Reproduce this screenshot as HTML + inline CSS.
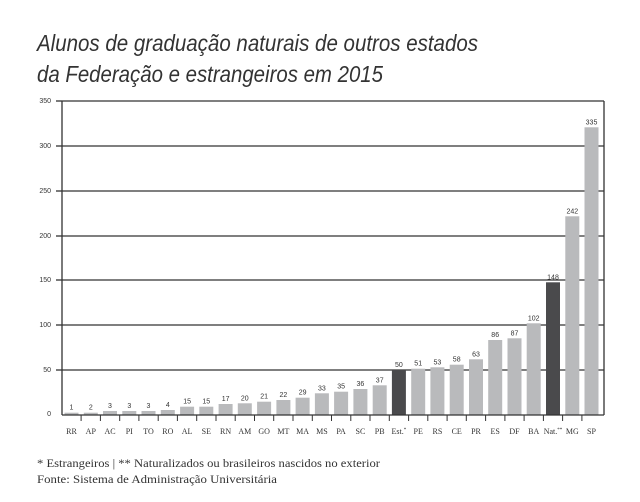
<!DOCTYPE html>
<html><head><meta charset="utf-8"><style>
html,body{margin:0;padding:0;background:#fff;}
svg{display:block}
</style></head><body>
<svg width="640" height="502" xmlns="http://www.w3.org/2000/svg">
<g font-family="Liberation Sans, sans-serif" font-style="italic" fill="#333" font-size="23">
<text x="37" y="51" textLength="441" lengthAdjust="spacingAndGlyphs">Alunos de graduação naturais de outros estados</text>
<text x="37" y="82" textLength="346" lengthAdjust="spacingAndGlyphs">da Federação e estrangeiros em 2015</text>
</g>
<g stroke="#333" stroke-width="1.3">
<line x1="62" y1="101" x2="604" y2="101"/>
<line x1="62" y1="146" x2="604" y2="146"/>
<line x1="62" y1="191" x2="604" y2="191"/>
<line x1="62" y1="236" x2="604" y2="236"/>
<line x1="62" y1="280" x2="604" y2="280"/>
<line x1="62" y1="325" x2="604" y2="325"/>
<line x1="62" y1="370" x2="604" y2="370"/>
<line x1="56" y1="101" x2="62" y2="101"/><line x1="56" y1="146" x2="62" y2="146"/><line x1="56" y1="191" x2="62" y2="191"/><line x1="56" y1="236" x2="62" y2="236"/><line x1="56" y1="280" x2="62" y2="280"/><line x1="56" y1="325" x2="62" y2="325"/><line x1="56" y1="370" x2="62" y2="370"/>
<line x1="62" y1="101" x2="62" y2="415"/>
<line x1="604" y1="101" x2="604" y2="415"/>
</g>
<g font-family="Liberation Sans, sans-serif" font-size="7" fill="#333" text-anchor="end">
<text x="51" y="103">350</text><text x="51" y="148">300</text><text x="51" y="193">250</text><text x="51" y="238">200</text><text x="51" y="282">150</text><text x="51" y="327">100</text><text x="51" y="372">50</text><text x="51" y="416">0</text>
</g>
<g fill="#b9babc">
<rect x="64.5" y="412.7" width="14" height="2.3"/>
<rect x="83.8" y="412.7" width="14" height="2.3"/>
<rect x="103" y="411" width="14" height="4"/>
<rect x="122.3" y="411" width="14" height="4"/>
<rect x="141.5" y="411" width="14" height="4"/>
<rect x="160.8" y="410" width="14" height="5"/>
<rect x="180.1" y="406.7" width="14" height="8.3"/>
<rect x="199.3" y="406.7" width="14" height="8.3"/>
<rect x="218.6" y="404" width="14" height="11"/>
<rect x="237.8" y="403.3" width="14" height="11.7"/>
<rect x="257.1" y="401.7" width="14" height="13.3"/>
<rect x="276.4" y="400" width="14" height="15"/>
<rect x="295.6" y="397.7" width="14" height="17.3"/>
<rect x="314.9" y="393.3" width="14" height="21.7"/>
<rect x="334.1" y="391.7" width="14" height="23.3"/>
<rect x="353.4" y="389" width="14" height="26"/>
<rect x="372.7" y="385.3" width="14" height="29.7"/>
<rect x="391.9" y="370" width="14" height="45" fill="#4a4a4c"/>
<rect x="411.2" y="368.7" width="14" height="46.3"/>
<rect x="430.4" y="367.3" width="14" height="47.7"/>
<rect x="449.7" y="364.7" width="14" height="50.3"/>
<rect x="469" y="359.3" width="14" height="55.7"/>
<rect x="488.2" y="340" width="14" height="75"/>
<rect x="507.5" y="338.3" width="14" height="76.7"/>
<rect x="526.7" y="323.3" width="14" height="91.7"/>
<rect x="546" y="282.3" width="14" height="132.7" fill="#4a4a4c"/>
<rect x="565.3" y="216.3" width="14" height="198.7"/>
<rect x="584.5" y="127.3" width="14" height="287.7"/>
</g>
<g font-family="Liberation Sans, sans-serif" font-size="7" fill="#333" text-anchor="middle">
<text x="71.5" y="409.7">1</text>
<text x="90.8" y="409.7">2</text>
<text x="110" y="408">3</text>
<text x="129.3" y="408">3</text>
<text x="148.5" y="408">3</text>
<text x="167.8" y="407">4</text>
<text x="187.1" y="403.7">15</text>
<text x="206.3" y="403.7">15</text>
<text x="225.6" y="401">17</text>
<text x="244.8" y="400.3">20</text>
<text x="264.1" y="398.7">21</text>
<text x="283.4" y="397">22</text>
<text x="302.6" y="394.7">29</text>
<text x="321.9" y="390.3">33</text>
<text x="341.1" y="388.7">35</text>
<text x="360.4" y="386">36</text>
<text x="379.7" y="382.3">37</text>
<text x="398.9" y="367">50</text>
<text x="418.2" y="365.7">51</text>
<text x="437.4" y="364.3">53</text>
<text x="456.7" y="361.7">58</text>
<text x="476" y="356.3">63</text>
<text x="495.2" y="337">86</text>
<text x="514.5" y="335.3">87</text>
<text x="533.7" y="320.3">102</text>
<text x="553" y="279.3">148</text>
<text x="572.3" y="213.3">242</text>
<text x="591.5" y="124.3">335</text>
</g>
<line x1="62" y1="415" x2="604" y2="415" stroke="#333" stroke-width="1.3"/>
<g stroke="#333" stroke-width="1">
<line x1="81.1" y1="415" x2="81.1" y2="421"/><line x1="100.4" y1="415" x2="100.4" y2="421"/><line x1="119.7" y1="415" x2="119.7" y2="421"/><line x1="138.9" y1="415" x2="138.9" y2="421"/><line x1="158.2" y1="415" x2="158.2" y2="421"/><line x1="177.4" y1="415" x2="177.4" y2="421"/><line x1="196.7" y1="415" x2="196.7" y2="421"/><line x1="216" y1="415" x2="216" y2="421"/><line x1="235.2" y1="415" x2="235.2" y2="421"/><line x1="254.5" y1="415" x2="254.5" y2="421"/><line x1="273.7" y1="415" x2="273.7" y2="421"/><line x1="293" y1="415" x2="293" y2="421"/><line x1="312.3" y1="415" x2="312.3" y2="421"/><line x1="331.5" y1="415" x2="331.5" y2="421"/><line x1="350.8" y1="415" x2="350.8" y2="421"/><line x1="370" y1="415" x2="370" y2="421"/><line x1="389.3" y1="415" x2="389.3" y2="421"/><line x1="408.6" y1="415" x2="408.6" y2="421"/><line x1="427.8" y1="415" x2="427.8" y2="421"/><line x1="447.1" y1="415" x2="447.1" y2="421"/><line x1="466.3" y1="415" x2="466.3" y2="421"/><line x1="485.6" y1="415" x2="485.6" y2="421"/><line x1="504.9" y1="415" x2="504.9" y2="421"/><line x1="524.1" y1="415" x2="524.1" y2="421"/><line x1="543.4" y1="415" x2="543.4" y2="421"/><line x1="562.6" y1="415" x2="562.6" y2="421"/><line x1="581.9" y1="415" x2="581.9" y2="421"/>
</g>
<g font-family="Liberation Serif, serif" font-size="8" fill="#333" text-anchor="middle">
<text x="71.5" y="434">RR</text><text x="90.8" y="434">AP</text><text x="110" y="434">AC</text><text x="129.3" y="434">PI</text><text x="148.5" y="434">TO</text><text x="167.8" y="434">RO</text><text x="187.1" y="434">AL</text><text x="206.3" y="434">SE</text><text x="225.6" y="434">RN</text><text x="244.8" y="434">AM</text><text x="264.1" y="434">GO</text><text x="283.4" y="434">MT</text><text x="302.6" y="434">MA</text><text x="321.9" y="434">MS</text><text x="341.1" y="434">PA</text><text x="360.4" y="434">SC</text><text x="379.7" y="434">PB</text><text x="398.9" y="434">Est.<tspan font-size="5" dy="-3">*</tspan></text><text x="418.2" y="434">PE</text><text x="437.4" y="434">RS</text><text x="456.7" y="434">CE</text><text x="476" y="434">PR</text><text x="495.2" y="434">ES</text><text x="514.5" y="434">DF</text><text x="533.7" y="434">BA</text><text x="553" y="434">Nat.<tspan font-size="5" dy="-3">**</tspan></text><text x="572.3" y="434">MG</text><text x="591.5" y="434">SP</text>
</g>
<g font-family="Liberation Serif, serif" font-size="12" fill="#333">
<text x="37" y="467" textLength="343" lengthAdjust="spacingAndGlyphs">* Estrangeiros | ** Naturalizados ou brasileiros nascidos no exterior</text>
<text x="37" y="483" textLength="240" lengthAdjust="spacingAndGlyphs">Fonte: Sistema de Administração Universitária</text>
</g>
</svg>
</body></html>
